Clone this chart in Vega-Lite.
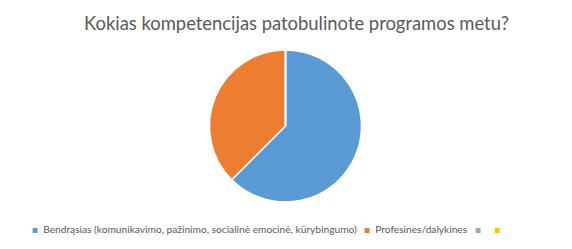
{
  "$schema": "https://vega.github.io/schema/vega-lite/v6.json",
  "autosize": {"type": "none"},
  "padding": 0,
  "width": 569,
  "height": 248,
  "background": "white",
  "title": {
    "text": "Kokias kompetencijas patobulinote programos metu?",
    "orient": "top",
    "anchor": "middle",
    "frame": "group",
    "offset": -33,
    "dx": 12,
    "font": "Lato",
    "fontSize": 18.4,
    "fontWeight": "normal",
    "color": "#595959"
  },
  "data": {
    "values": [
      {"kategorija": "Bendrąsias (komunikavimo, pažinimo, socialinė emocinė, kūrybingumo)", "reiksme": 10, "eile": 1},
      {"kategorija": "Profesines/dalykines", "reiksme": 6, "eile": 2},
      {"kategorija": " ", "reiksme": 0, "eile": 3},
      {"kategorija": "  ", "reiksme": 0, "eile": 4}
    ]
  },
  "mark": {"type": "arc", "outerRadius": 76, "stroke": "white", "strokeWidth": 1.5, "xOffset": 1, "yOffset": 2},
  "encoding": {
    "theta": {"field": "reiksme", "type": "quantitative", "stack": true},
    "order": {"field": "eile", "type": "quantitative"},
    "color": {
      "field": "kategorija",
      "type": "nominal",
      "sort": null,
      "scale": {
        "domain": ["Bendrąsias (komunikavimo, pažinimo, socialinė emocinė, kūrybingumo)", "Profesines/dalykines", " ", "  "],
        "range": ["#5B9BD5", "#ED7D31", "#A5A5A5", "#FFC000"]
      },
      "legend": {
        "title": null,
        "orient": "none",
        "legendX": 30,
        "legendY": 225,
        "direction": "horizontal",
        "columns": 4,
        "symbolType": "square",
        "symbolSize": 25,
        "symbolStrokeWidth": 0,
        "labelFont": "Lato",
        "labelFontSize": 10.2,
        "labelColor": "#595959",
        "labelOffset": 3,
        "labelExpr": "trim(datum.label)",
        "columnPadding": 5,
        "labelLimit": 500
      }
    }
  },
  "config": {
    "view": {"stroke": "#D9D9D9", "strokeWidth": 1}
  }
}
